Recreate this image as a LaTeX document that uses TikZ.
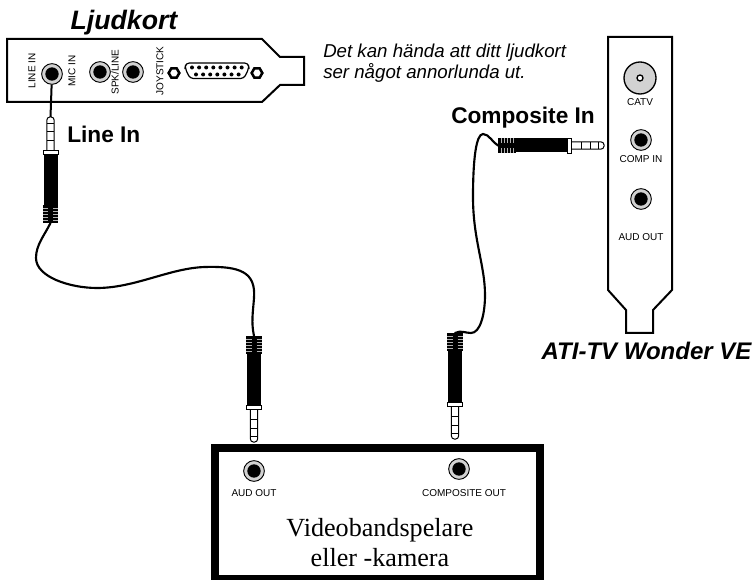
\documentclass[tikz,border=0pt]{standalone}
\usepackage{fontspec}
\setmainfont{Liberation Sans}
\newfontfamily\boxfont{Liberation Serif}
\usetikzlibrary{shapes.geometric}

\tikzset{
 jack/.style={circle,draw=black,line width=.7pt,fill=gray!35,minimum size=15.5pt,inner sep=0pt,
  path picture={\fill[black] (path picture bounding box.center) circle (5pt);}},
 nut/.style={regular polygon,regular polygon sides=6,draw,line width=1.9pt,minimum size=8pt,inner sep=0pt},
 card/.style={draw,line width=1.5pt,line join=miter,fill=white},
 cable/.style={line width=1.6pt,line cap=round},
 small/.style={inner sep=0pt,font=\fontsize{7.5}{9}\selectfont},
 head/.style={inner sep=0pt,font=\fontsize{17}{20}\selectfont\bfseries},
 title/.style={inner sep=0pt,font=\fontsize{#1}{20}\selectfont\bfseries\itshape},
 plug/.pic={
  \draw[line width=.75pt,fill=white,rounded corners=2.2pt] (34,-3.6) -- (0,-3.6) -- (0,3.6) -- (34,3.6);
  \foreach \b in {6,14,23} \draw[line width=.6pt] (\b,-3.6) -- (\b,3.6);
  \draw[line width=.6pt,fill=white] (33,-7.5) rectangle (37,7.5);
  \fill[black] (37,-7) rectangle (88,7);
  \fill[black] (88,-7.7) rectangle (106,7.7);
  \foreach \r in {91,94,97,100,103} \draw[gray!60,line width=.3pt] (\r,-7.7) -- (\r,-2.5) (\r,2.5) -- (\r,7.7);
  \coordinate (-tip) at (0,0);
  \coordinate (-end) at (106,0);
 }
}

\begin{document}
\begin{tikzpicture}[x=.75pt,y=-.75pt]
 \useasboundingbox (0,0) rectangle (752,580);
 % ljudkort
 \draw[card] (7,39) -- (262,39) -- (280,57) -- (304,57) -- (304,85) -- (280,85) -- (262,102) -- (7,102) -- cycle;
 \node[title=20] (ljud) at (124,23) {Ljudkort};
 \node[jack] (linein) at (52,74) {};
 \node[jack] (micin) at (100,72) {};
 \node[jack] (spk) at (133,72) {};
 \node[small,rotate=90] (lbla) at (32,71) {LINE IN};
 \node[small,rotate=90] (lblb) at (72,71) {MIC IN};
 \node[small,rotate=90] (lblc) at (115,72) {SPK/LINE};
 \node[small,rotate=90] (lbld) at (160,71) {JOYSTICK};
 \node[nut] (nuta) at (174,73) {};
 \node[nut] (nutb) at (257,73) {};
 \draw[line width=.9pt,rounded corners=2.5pt] (186,63) -- (248,63) -- (249,68) -- (244,78.5) -- (190,78.5) -- (185,68) -- cycle;
 \foreach \i in {0,...,7} \fill (192+7.1*\i,67.5) circle (1.5pt);
 \foreach \i in {0,...,6} \fill (196+7.1*\i,74.5) circle (1.5pt);
 \node[anchor=north west,align=left,inner sep=0pt,font=\fontsize{14}{15.75}\selectfont\itshape] (note) at (323,43.5) {Det kan hända att ditt ljudkort\\ser något annorlunda ut.};
 % tv-kort
 \draw[card] (608,37) -- (672,37) -- (672,290) -- (653,310) -- (653,333) -- (626,333) -- (626,310) -- (608,290) -- cycle;
 \node[circle,draw,line width=1pt,fill=gray!35,minimum size=24pt,inner sep=0pt] (catv) at (640,78) {};
 \node[circle,draw,line width=1pt,fill=white,minimum size=4.5pt,inner sep=0pt] (catvhole) at (catv) {};
 \node[jack] (compin) at (641,140) {};
 \node[jack] (audouta) at (641,199) {};
 \node[small] (lble) at (640,102) {CATV};
 \node[small] (lblf) at (641,159) {COMP IN};
 \node[small] (lblg) at (641,237) {AUD OUT};
 \node[title=18] (ati) at (646.5,351) {ATI-TV Wonder VE};
 % video
 \node[draw,line width=6pt,fill=white,minimum width=243.75pt,minimum height=98.6pt,inner sep=0pt] (video) at (377.5,513.25) {};
 \node[jack] (audoutb) at (254,471) {};
 \node[jack] (compout) at (459,469) {};
 \node[small] (lblh) at (254,493) {AUD OUT};
 \node[small] (lbli) at (464,493) {COMPOSITE OUT};
 \node[inner sep=0pt,align=center,font=\fontsize{19.6}{22.5}\selectfont\boxfont] (vtext) at (380,543) {Videobandspelare\\eller -kamera};
 % kontakter
 \pic[rotate=-90] (lineplug) at (50.5,117) {plug};
 \pic[rotate=90] (audplug) at (254,442) {plug};
 \pic[rotate=180] (compplug) at (604,145.5) {plug};
 \pic[rotate=90] (outplug) at (455,439) {plug};
 \draw[line width=1.5pt] (linein) -- (lineplug-tip);
 \draw[cable] (lineplug-end) .. controls (44,236) and (36,245) .. (36,258)
  .. controls (36,277) and (70,288) .. (97,288)
  .. controls (135,288) and (170,268) .. (205,267)
  .. controls (240,266) and (256,272) .. (254,298)
  .. controls (253,312) and (251,322) .. (audplug-end);
 \draw[cable] (compplug-end) .. controls (493,143) and (489,134) .. (483,134)
  .. controls (476,134) and (473,160) .. (473,197)
  .. controls (473,240) and (485,265) .. (485,295)
  .. controls (485,315) and (480,333) .. (471,333)
  .. controls (465,333) and (461,330) .. (outplug-end);
 \node[head,anchor=west] (linelbl) at (67,134) {Line In};
 \node[head,anchor=west] (complbl) at (451,118) {Composite In};
\end{tikzpicture}
\end{document}
